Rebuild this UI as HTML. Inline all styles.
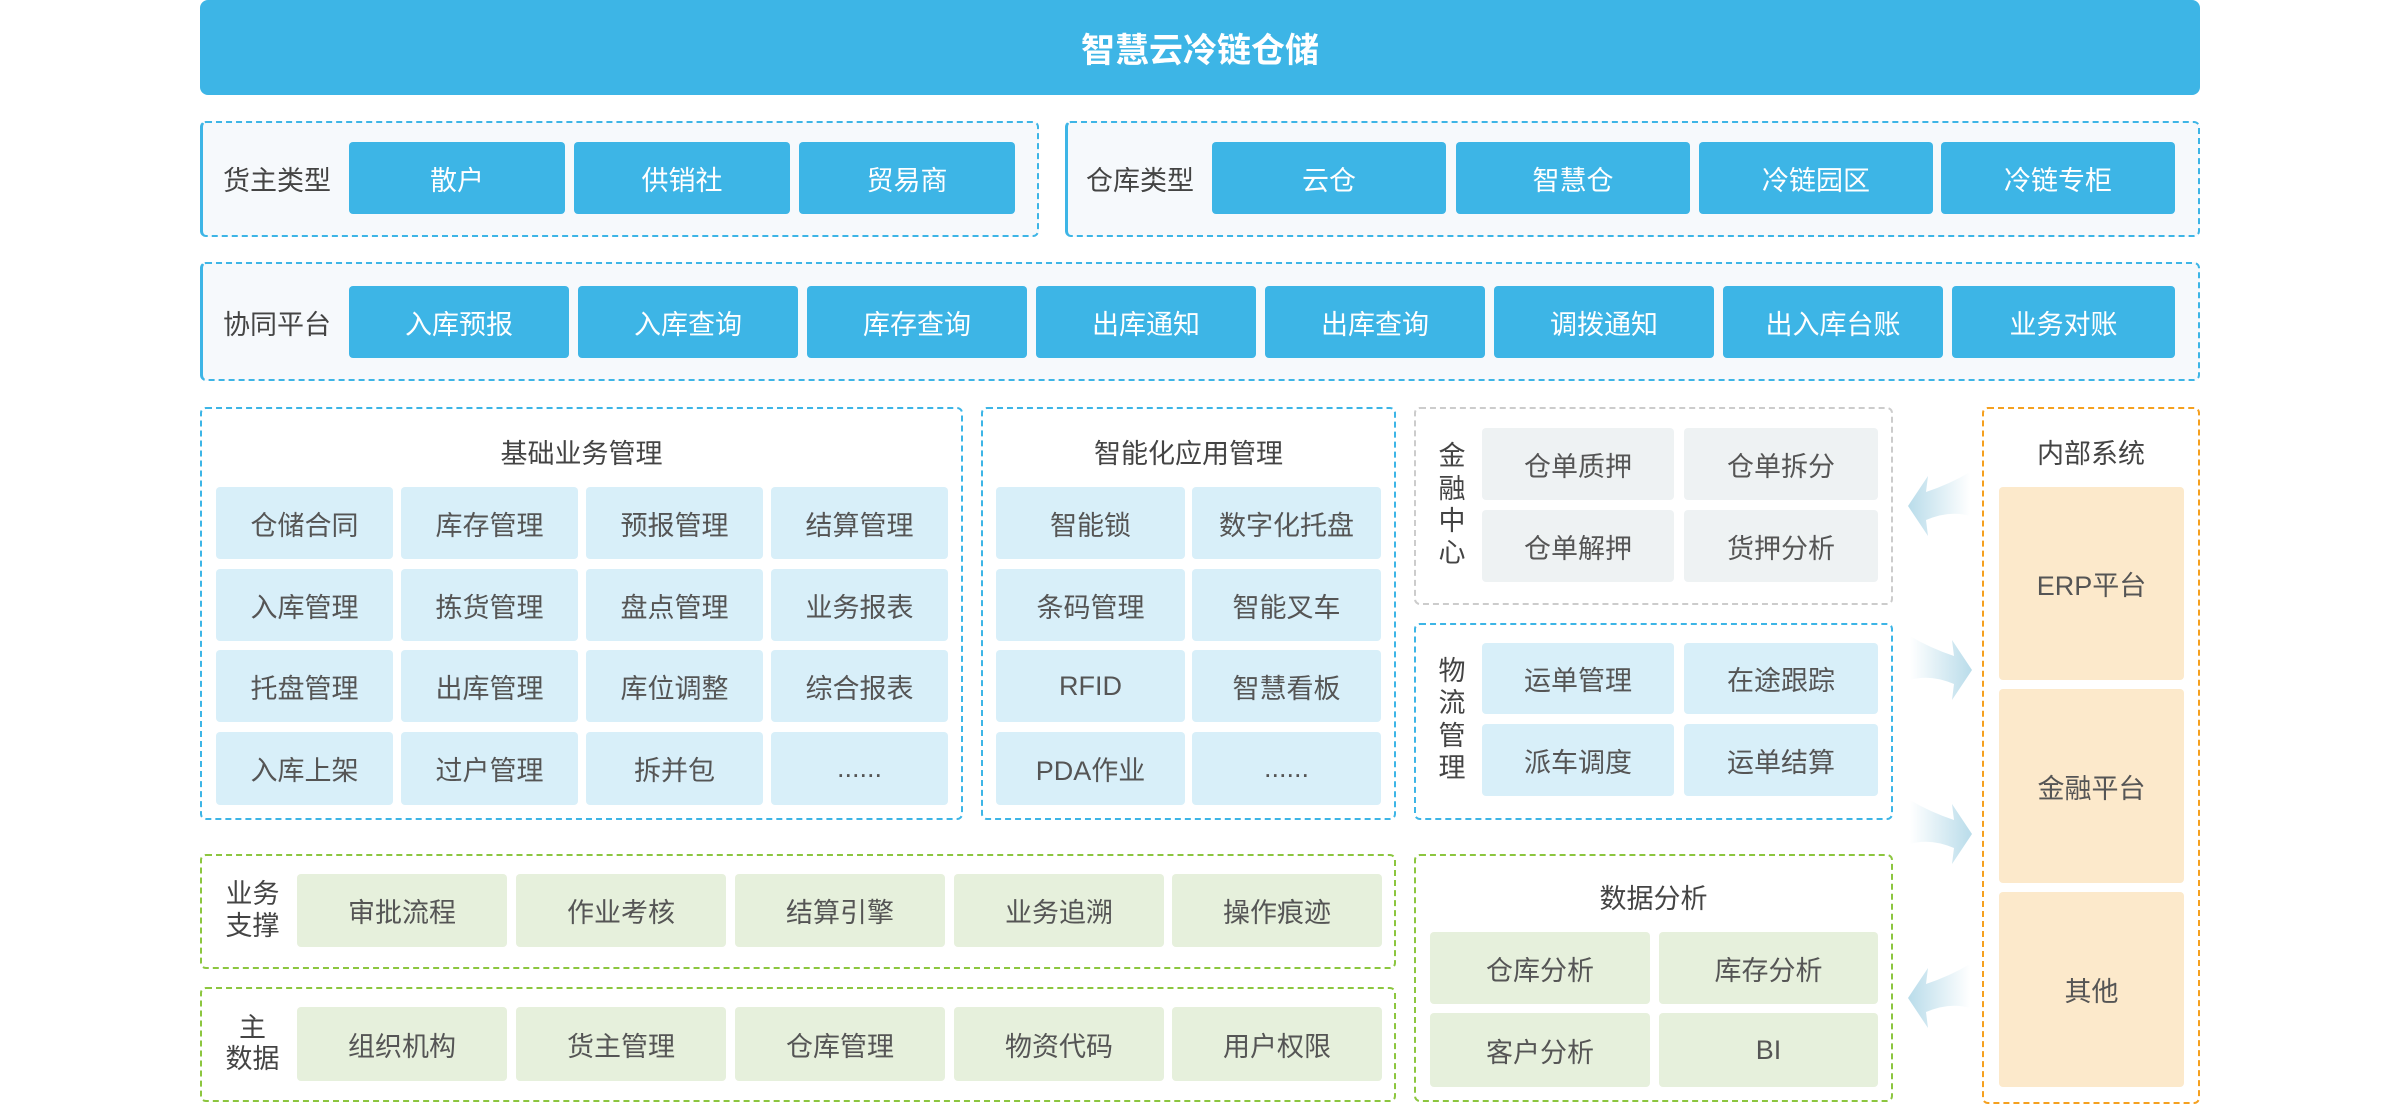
<!DOCTYPE html>
<html><head><meta charset="utf-8"><style>
*{margin:0;padding:0;box-sizing:border-box}
body{width:2400px;height:1104px;background:#fff;position:relative;overflow:hidden;font-family:"Liberation Sans","Noto Sans CJK SC",sans-serif;color:#555}
div{position:absolute}
.c{display:flex;align-items:center;justify-content:center;font-size:27px;border-radius:4px;text-align:center}
.b{background:#3db5e6;color:#fff}
.lb{background:#d8eff9}
.g{background:#eef2f3}
.gr{background:#e6f0dc}
.o{background:#fce9cb}
.box{border:2px dashed #3db5e6;border-radius:6px}
.bl{background:#f6f9fc;border-left:3px solid #3db5e6}
.lab{font-size:27px;color:#444;display:flex;align-items:center;justify-content:center;text-align:center;line-height:1.15}
.t{font-size:27px;color:#444;text-align:center}
</style></head><body>
<div class="c b" style="left:200px;top:0;width:2000px;height:95px;border-radius:8px;font-size:34px;font-weight:bold">智慧云冷链仓储</div>

<div class="box bl" style="left:200px;top:121px;width:839px;height:116px"></div>
<div class="lab" style="left:210px;top:146px;width:134px;height:72px">货主类型</div>
<div class="c b" style="left:349px;top:142px;width:216px;height:72px">散户</div>
<div class="c b" style="left:574px;top:142px;width:216px;height:72px">供销社</div>
<div class="c b" style="left:799px;top:142px;width:216px;height:72px">贸易商</div>

<div class="box bl" style="left:1065px;top:121px;width:1135px;height:116px"></div>
<div class="lab" style="left:1075px;top:146px;width:130px;height:72px">仓库类型</div>
<div class="c b" style="left:1212px;top:142px;width:234px;height:72px">云仓</div>
<div class="c b" style="left:1456px;top:142px;width:234px;height:72px">智慧仓</div>
<div class="c b" style="left:1699px;top:142px;width:234px;height:72px">冷链园区</div>
<div class="c b" style="left:1941px;top:142px;width:234px;height:72px">冷链专柜</div>

<div class="box bl" style="left:200px;top:262px;width:2000px;height:119px"></div>
<div class="lab" style="left:210px;top:290px;width:134px;height:72px">协同平台</div>
<div class="c b" style="left:349px;top:286px;width:220px;height:72px">入库预报</div>
<div class="c b" style="left:578px;top:286px;width:220px;height:72px">入库查询</div>
<div class="c b" style="left:807px;top:286px;width:220px;height:72px">库存查询</div>
<div class="c b" style="left:1036px;top:286px;width:220px;height:72px">出库通知</div>
<div class="c b" style="left:1265px;top:286px;width:220px;height:72px">出库查询</div>
<div class="c b" style="left:1494px;top:286px;width:220px;height:72px">调拨通知</div>
<div class="c b" style="left:1723px;top:286px;width:220px;height:72px">出入库台账</div>
<div class="c b" style="left:1952px;top:286px;width:223px;height:72px">业务对账</div>

<!-- base mgmt -->
<div class="box" style="left:200px;top:407px;width:763px;height:413px"></div>
<div class="t" style="left:200px;top:432px;width:763px">基础业务管理</div>
<div class="c lb" style="left:216px;top:487px;width:177px;height:72px">仓储合同</div>
<div class="c lb" style="left:401px;top:487px;width:177px;height:72px">库存管理</div>
<div class="c lb" style="left:586px;top:487px;width:177px;height:72px">预报管理</div>
<div class="c lb" style="left:771px;top:487px;width:177px;height:72px">结算管理</div>
<div class="c lb" style="left:216px;top:569px;width:177px;height:72px">入库管理</div>
<div class="c lb" style="left:401px;top:569px;width:177px;height:72px">拣货管理</div>
<div class="c lb" style="left:586px;top:569px;width:177px;height:72px">盘点管理</div>
<div class="c lb" style="left:771px;top:569px;width:177px;height:72px">业务报表</div>
<div class="c lb" style="left:216px;top:650px;width:177px;height:72px">托盘管理</div>
<div class="c lb" style="left:401px;top:650px;width:177px;height:72px">出库管理</div>
<div class="c lb" style="left:586px;top:650px;width:177px;height:72px">库位调整</div>
<div class="c lb" style="left:771px;top:650px;width:177px;height:72px">综合报表</div>
<div class="c lb" style="left:216px;top:732px;width:177px;height:73px">入库上架</div>
<div class="c lb" style="left:401px;top:732px;width:177px;height:73px">过户管理</div>
<div class="c lb" style="left:586px;top:732px;width:177px;height:73px">拆并包</div>
<div class="c lb" style="left:771px;top:732px;width:177px;height:73px">......</div>

<!-- intelligent -->
<div class="box" style="left:981px;top:407px;width:415px;height:413px"></div>
<div class="t" style="left:981px;top:432px;width:415px">智能化应用管理</div>
<div class="c lb" style="left:996px;top:487px;width:189px;height:72px">智能锁</div>
<div class="c lb" style="left:1192px;top:487px;width:189px;height:72px">数字化托盘</div>
<div class="c lb" style="left:996px;top:569px;width:189px;height:72px">条码管理</div>
<div class="c lb" style="left:1192px;top:569px;width:189px;height:72px">智能叉车</div>
<div class="c lb" style="left:996px;top:650px;width:189px;height:72px">RFID</div>
<div class="c lb" style="left:1192px;top:650px;width:189px;height:72px">智慧看板</div>
<div class="c lb" style="left:996px;top:732px;width:189px;height:73px">PDA作业</div>
<div class="c lb" style="left:1192px;top:732px;width:189px;height:73px">......</div>

<!-- finance -->
<div class="box" style="left:1414px;top:407px;width:479px;height:198px;border-color:#ccc"></div>
<div class="lab" style="left:1436px;top:428px;width:32px;height:154px;line-height:1.2">金<br>融<br>中<br>心</div>
<div class="c g" style="left:1482px;top:428px;width:192px;height:72px">仓单质押</div>
<div class="c g" style="left:1684px;top:428px;width:194px;height:72px">仓单拆分</div>
<div class="c g" style="left:1482px;top:510px;width:192px;height:72px">仓单解押</div>
<div class="c g" style="left:1684px;top:510px;width:194px;height:72px">货押分析</div>

<!-- logistics -->
<div class="box" style="left:1414px;top:623px;width:479px;height:197px"></div>
<div class="lab" style="left:1436px;top:643px;width:32px;height:153px;line-height:1.2">物<br>流<br>管<br>理</div>
<div class="c lb" style="left:1482px;top:643px;width:192px;height:71px">运单管理</div>
<div class="c lb" style="left:1684px;top:643px;width:194px;height:71px">在途跟踪</div>
<div class="c lb" style="left:1482px;top:724px;width:192px;height:72px">派车调度</div>
<div class="c lb" style="left:1684px;top:724px;width:194px;height:72px">运单结算</div>

<!-- internal -->
<div class="box" style="left:1982px;top:407px;width:218px;height:697px;border-color:#f5a01f"></div>
<div class="t" style="left:1982px;top:432px;width:218px">内部系统</div>
<div class="c o" style="left:1999px;top:487px;width:185px;height:193px">ERP平台</div>
<div class="c o" style="left:1999px;top:689px;width:185px;height:194px">金融平台</div>
<div class="c o" style="left:1999px;top:892px;width:185px;height:195px">其他</div>

<!-- arrows -->
<svg style="position:absolute;left:1900px;top:470px" width="80" height="570" viewBox="0 0 80 570">
<defs>
<linearGradient id="gl" x1="0" x2="1" y1="0" y2="0"><stop offset="0" stop-color="#b9dcea"/><stop offset="1" stop-color="#b9dcea" stop-opacity="0"/></linearGradient>
<linearGradient id="gr" x1="1" x2="0" y1="0" y2="0"><stop offset="0" stop-color="#b9dcea"/><stop offset="1" stop-color="#b9dcea" stop-opacity="0"/></linearGradient>
</defs>
<path d="M8 36 L28 6 L26 22 Q50 14 70 2 L70 46 Q50 40 26 50 L28 66 Z" fill="url(#gl)"/>
<path d="M72 200 L52 170 L54 186 Q30 178 10 166 L10 210 Q30 204 54 214 L52 230 Z" fill="url(#gr)"/>
<path d="M72 364 L52 334 L54 350 Q30 342 10 330 L10 374 Q30 368 54 378 L52 394 Z" fill="url(#gr)"/>
<path d="M8 528 L28 498 L26 514 Q50 506 70 494 L70 538 Q50 532 26 542 L28 558 Z" fill="url(#gl)"/>
</svg>

<!-- business support -->
<div class="box" style="left:200px;top:854px;width:1196px;height:115px;border-color:#8cc63f"></div>
<div class="lab" style="left:215px;top:874px;width:75px;height:73px">业务<br>支撑</div>
<div class="c gr" style="left:297px;top:874px;width:210px;height:73px">审批流程</div>
<div class="c gr" style="left:516px;top:874px;width:210px;height:73px">作业考核</div>
<div class="c gr" style="left:735px;top:874px;width:210px;height:73px">结算引擎</div>
<div class="c gr" style="left:954px;top:874px;width:210px;height:73px">业务追溯</div>
<div class="c gr" style="left:1172px;top:874px;width:210px;height:73px">操作痕迹</div>

<div class="box" style="left:200px;top:987px;width:1196px;height:115px;border-color:#8cc63f"></div>
<div class="lab" style="left:215px;top:1007px;width:75px;height:74px">主<br>数据</div>
<div class="c gr" style="left:297px;top:1007px;width:210px;height:74px">组织机构</div>
<div class="c gr" style="left:516px;top:1007px;width:210px;height:74px">货主管理</div>
<div class="c gr" style="left:735px;top:1007px;width:210px;height:74px">仓库管理</div>
<div class="c gr" style="left:954px;top:1007px;width:210px;height:74px">物资代码</div>
<div class="c gr" style="left:1172px;top:1007px;width:210px;height:74px">用户权限</div>

<!-- data analysis -->
<div class="box" style="left:1414px;top:854px;width:479px;height:248px;border-color:#8cc63f"></div>
<div class="t" style="left:1414px;top:877px;width:479px">数据分析</div>
<div class="c gr" style="left:1430px;top:932px;width:220px;height:72px">仓库分析</div>
<div class="c gr" style="left:1659px;top:932px;width:219px;height:72px">库存分析</div>
<div class="c gr" style="left:1430px;top:1013px;width:220px;height:74px">客户分析</div>
<div class="c gr" style="left:1659px;top:1013px;width:219px;height:74px">BI</div>
</body></html>
